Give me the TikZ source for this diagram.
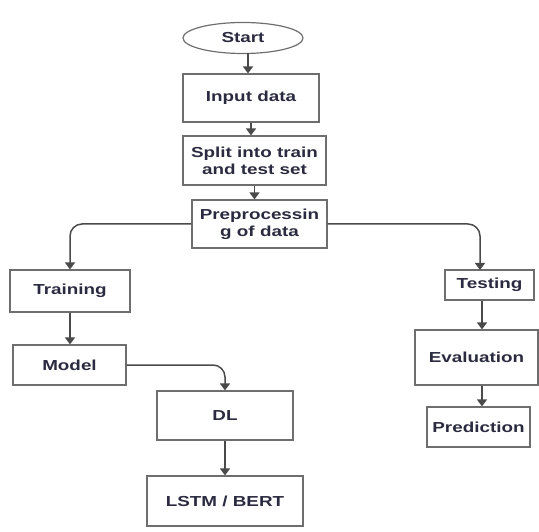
\documentclass[tikz,border=0pt]{standalone}
\usepackage{fontspec}
\newfontfamily\lab[FakeStretch=1.3]{Liberation Sans}
\usetikzlibrary{shapes.geometric,arrows.meta}
\definecolor{boxline}{HTML}{6E6E6E}
\definecolor{conn}{HTML}{4A4A4A}
\definecolor{txt}{HTML}{2A2A40}
\tikzset{
  box/.style={draw=boxline, line width=1.2pt, rectangle, inner sep=0pt, align=center,
    font=\lab\bfseries\fontsize{14.5}{17}\selectfont, text=txt},
  startnode/.style={box, ellipse},
  conn/.style={draw=conn, line width=1.5pt, -{Triangle[width=10pt,length=7pt]}},
  curved/.style={conn, rounded corners=12pt}
}
\begin{document}
\begin{tikzpicture}[x=1pt,y=-1pt]
\useasboundingbox (0,0) rectangle (539,532);
\node[startnode, minimum width=120, minimum height=31] (start) at (243,38) {Start};
\node[box, minimum width=136, minimum height=48] (input) at (251,98) {Input data};
\node[box, minimum width=143, minimum height=49] (split) at (254.5,160.5) {Split into train\\and test set};
\node[box, minimum width=135, minimum height=48] (pre) at (259.5,224) {Preprocessin\\g of data};
\node[box, minimum width=120, minimum height=42] (train) at (70,291) {Training};
\node[box, minimum width=113, minimum height=40] (model) at (69.5,365) {Model};
\node[box, minimum width=136, minimum height=49] (dl) at (225,415.5) {DL};
\node[box, minimum width=156, minimum height=50] (lstm) at (225,501) {LSTM / BERT};
\node[box, minimum width=89, minimum height=30] (test) at (489.5,285) {Testing};
\node[box, minimum width=123, minimum height=55] (eval) at (476.5,357.5) {Evaluation};
\node[box, minimum width=103, minimum height=40] (pred) at (478.5,427) {Prediction};
\coordinate (sa) at (248,53.5);
\coordinate (ta) at (480,270);
\draw[conn] (sa) -- (sa |- input.north);
\draw[conn] (input) -- (input.south |- split.north) ;
\draw[conn] (split.south) -- (split.south |- pre.north);
\draw[curved] (pre.west) -| (train.north);
\draw[curved] (pre.east) -| (ta);
\draw[conn] (train.south) -- (model.north -| train.south);
\draw[curved] (model.east) -| (dl.north);
\draw[conn] (dl.south) -- (lstm.north);
\draw[conn] (ta |- test.south) ++(2,0) coordinate (tb) -- (tb |- eval.north);
\draw[conn] (tb |- eval.south) -- (tb |- pred.north);
\end{tikzpicture}
\end{document}
